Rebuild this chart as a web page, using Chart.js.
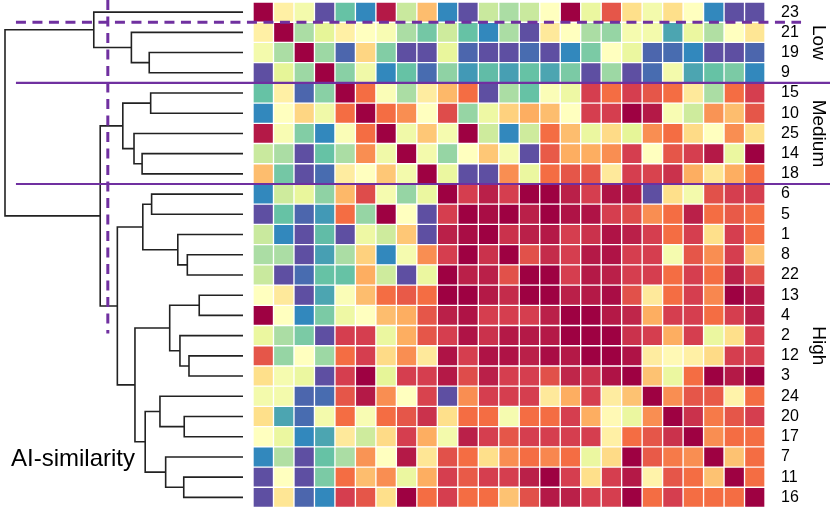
<!DOCTYPE html>
<html>
<head>
<meta charset="utf-8">
<title>AI-similarity</title>
<script src="https://cdn.jsdelivr.net/npm/chart.js@4.4.1/dist/chart.umd.min.js"></script>
<style>
  html, body { margin: 0; padding: 0; background: #fff; }
  #wrap { width: 830px; height: 510px; }
</style>
</head>
<body>
<div id="wrap"><canvas id="simChart" width="830" height="510"></canvas></div>
<script>
// row / column order (same order on both axes)
const rowLabels = ['23','21','19','9','15','10','25','14','18','6','5','1','8','22','13','4','2','12','3','24','20','17','7','11','16'];

// similarity per row, 0 (low) .. 10 (high)
const s23 = [10, 5.5, 4.5, 0, 2, 1, 9.6, 3.5, 6.7, 1, 0, 3.5, 3, 3.5, 5, 10, 4.2, 8.5, 6, 4.5, 6, 5, 1, 0, 0];
const s21 = [5.5, 10, 3, 4, 5.5, 5, 4.7, 3, 2.2, 3.6, 2, 1, 3, 0, 5.7, 5, 3, 2.7, 4.6, 4.5, 1.5, 4.2, 3.1, 5, 5.8];
const s19 = [4.5, 3, 10, 2.8, 0.4, 6.2, 2.4, 0, 0, 4.1, 0.4, 0, 0, 0.5, 0, 1, 2.3, 5, 4.2, 0.4, 0.5, 1, 0, 0, 0.4];
const s9  = [0, 4, 2.8, 10, 2.5, 4.4, 1, 2, 0.5, 2.6, 1.3, 1.9, 1.4, 2, 1.5, 2.3, 0, 2.8, 0, 0.5, 4.5, 1.5, 2, 2.3, 1];
const s15 = [2, 5.5, 0.4, 2.5, 10, 8, 4.8, 3, 5.6, 6.8, 8, 0, 3, 2, 4.8, 4.3, 9, 8, 9, 8.5, 8, 5.7, 3, 8, 9];
const s10 = [1, 5, 6.2, 4.4, 8, 10, 8, 7.5, 5, 8.7, 2.7, 4.3, 6.3, 7, 6.7, 5, 9, 9, 10, 9.6, 4.7, 3.6, 7.4, 6.7, 8.5];
const s25 = [9.6, 4.7, 2.4, 1, 4.8, 8, 10, 4.4, 6.5, 4.6, 10, 3.6, 1, 3.6, 8, 6.7, 4.2, 6.1, 4, 7.5, 8, 6.1, 5, 7.5, 6];
const s14 = [3.5, 3, 0, 2, 3, 7.5, 4.4, 10, 4.5, 2.7, 5, 6.5, 4.6, 0, 8.4, 7, 7, 7.5, 9, 5, 8.5, 9, 9.6, 4.2, 10];
const s18 = [6.7, 2.2, 0, 0.5, 5.6, 5, 6.5, 4.5, 10, 4.2, 0, 0, 7.5, 4.2, 8, 8.5, 8.5, 5.7, 9, 8.9, 9.2, 7, 5.8, 7, 8];
const s6  = [1, 3.6, 4.1, 2.6, 6.8, 8.7, 4.6, 2.7, 4.2, 10, 9, 9.5, 9, 10, 10, 9.5, 9, 9.7, 9.6, 0, 6, 4.5, 8.6, 9, 9];
const s5  = [0, 2, 0.4, 1.3, 8, 2.7, 10, 5, 0, 9, 10, 9.8, 10, 9.5, 10, 9.7, 9.7, 9, 8.7, 7.5, 8, 9.5, 8, 8.4, 8];
const s1  = [3.5, 1, 0, 1.9, 0, 4.3, 3.6, 6.5, 0, 9.5, 9.8, 10, 9.2, 9.5, 9.6, 9, 9.2, 9.7, 9.5, 9, 8, 9, 6, 9, 8];
const s8  = [3, 3, 0, 1.4, 3, 6.3, 1, 4.6, 7.5, 9, 10, 9.2, 10, 8.6, 9.3, 9, 9.6, 9.7, 9, 9, 4.6, 8.5, 7.5, 9, 6.6];
const s22 = [3.5, 0, 0.5, 2, 2, 7, 3.6, 0, 4.2, 10, 9.5, 9.5, 8.6, 10, 10, 9, 9.6, 9.5, 9, 9, 8, 9, 8, 9.5, 8.6];
const s13 = [5, 5.7, 0, 1.5, 4.8, 6.7, 8, 8.4, 8, 10, 10, 9.6, 9.3, 10, 10, 9.5, 9.6, 9.8, 8.6, 5.7, 8, 9, 7.6, 10, 9.6];
const s4  = [10, 5, 1, 2.3, 4.3, 5, 6.7, 7, 8.5, 9.5, 9.7, 9, 9, 9, 9.5, 10, 10, 9.6, 9.4, 7, 9, 9, 8, 9, 9.5];
const s2  = [4.2, 3, 2.3, 0, 9, 9, 4.2, 7, 8.5, 9, 9.7, 9.2, 9.6, 9.6, 9.6, 10, 10, 10, 9.2, 9, 7, 9, 4.2, 6, 9];
const s12 = [8.5, 2.7, 5, 2.8, 8, 9, 6.1, 7.5, 5.7, 9.7, 9, 9.7, 9.7, 9.5, 9.8, 9.6, 10, 10, 9.7, 5.6, 5.2, 5.5, 6.1, 9, 9];
const s3  = [6, 4.6, 4.2, 0, 9, 10, 4, 9, 9, 9.6, 8.7, 9.5, 9, 9, 8.6, 9.4, 9.2, 9.7, 10, 6.6, 4.2, 8, 10, 9.6, 10];
const s24 = [4.5, 4.5, 0.4, 0.5, 8.5, 9.6, 7.5, 5, 8.9, 0, 7.5, 9, 9, 9, 5.7, 7, 9, 5.6, 6.6, 10, 7.5, 8.5, 8.4, 5.4, 8];
const s20 = [6, 1.5, 0.5, 4.5, 8, 4.7, 8, 8.5, 9.2, 6, 8, 8, 4.6, 8, 8, 9, 7, 5.2, 4.2, 7.5, 10, 9.2, 7.8, 8.5, 9];
const s17 = [5, 4.2, 1, 1.5, 5.7, 3.6, 6.1, 9, 7, 4.5, 9.5, 9, 8.5, 9, 9, 9, 9, 5.5, 8, 8.5, 9.2, 10, 7.5, 8, 8];
const s7  = [1, 3.1, 0, 2, 3, 7.4, 5, 9.6, 5.8, 8.6, 8, 6, 7.5, 8, 7.6, 8, 4.2, 6.1, 10, 8.4, 7.8, 7.5, 10, 6.6, 8];
const s11 = [0, 5, 0, 2.3, 8, 6.7, 7.5, 4.2, 7, 9, 8.4, 9, 9, 9.5, 10, 9, 6, 9, 9.6, 5.4, 8.5, 8, 6.6, 10, 8];
const s16 = [0, 5.8, 0.4, 1, 9, 8.5, 6, 10, 8, 9, 8, 8, 6.6, 8.6, 9.6, 9.5, 9, 9, 10, 8, 9, 8, 8, 8, 10];

// dendrogram merges: children are row indexes (<25) or earlier merges (25 + k)
const mergeLeft   = [14, 17, 12, 20, 23, 16, 11, 25, 22, 19, 9, 4, 2, 34, 35, 7, 32, 6, 1, 36, 39, 44, 0, 47];
const mergeRight  = [15, 18, 13, 21, 24, 26, 27, 30, 29, 28, 10, 5, 3, 33, 31, 8, 38, 40, 37, 42, 41, 45, 43, 46];
const mergeHeight = [0.184, 0.227, 0.234, 0.247, 0.249, 0.265, 0.274, 0.308, 0.325, 0.349, 0.384, 0.388, 0.394,
                     0.411, 0.421, 0.424, 0.454, 0.458, 0.469, 0.505, 0.528, 0.600, 0.627, 1.0];

// group labels and cut lines
const groupNames = ['Low', 'Medium', 'High'];
const groupCentres = [1.5, 6, 16.5];
const groupBreaks = [3.5, 8.5];
const dashedBreak = 0.5;
const cutHeight = 0.568;

const spectral = ['#5e4fa2','#3288bd','#66c2a5','#abdda4','#e6f598','#ffffbf','#fee08b','#fdae61','#f46d43','#d53e4f','#9e0142'];

const FONT = '"Liberation Sans", Arial, sans-serif';
const PURPLE = '#7030a0';

const matrix = [s23, s21, s19, s9, s15, s10, s25, s14, s18, s6, s5, s1, s8, s22, s13, s4, s2, s12, s3, s24, s20, s17, s7, s11, s16];

function hexRgb(h) {
  return [1, 3, 5].map(i => parseInt(h.slice(i, i + 2), 16));
}
function cellColor(v) {
  const t = Math.max(0, Math.min(10, v));
  const i = Math.min(9, Math.floor(t));
  const f = t - i;
  const a = hexRgb(spectral[i]), b = hexRgb(spectral[i + 1]);
  const c = a.map((x, k) => Math.round(x + (b[k] - x) * f));
  return `rgb(${c[0]},${c[1]},${c[2]})`;
}

// one floating-bar dataset per column
const heatSets = rowLabels.map((_, c) => ({
  type: 'bar',
  xAxisID: 'x',
  yAxisID: 'y',
  data: rowLabels.map((_, r) => ({ x: [c, c + 1], y: r })),
  backgroundColor: rowLabels.map((_, r) => cellColor(matrix[r][c])),
  borderColor: '#ffffff',
  borderWidth: 1,
  borderSkipped: false,
  grouped: false,
  categoryPercentage: 1,
  barPercentage: 1
}));

// dendrogram links
const nodeY = rowLabels.map((_, i) => i);
const nodeH = rowLabels.map(() => 0);
const treeSets = [];
mergeLeft.forEach((a, k) => {
  const b = mergeRight[k];
  const h = mergeHeight[k];
  treeSets.push({
    type: 'line',
    xAxisID: 'xd',
    yAxisID: 'y',
    data: [
      { x: nodeH[a], y: nodeY[a] },
      { x: h, y: nodeY[a] },
      { x: h, y: nodeY[b] },
      { x: nodeH[b], y: nodeY[b] }
    ],
    borderColor: '#222222',
    borderWidth: 1.6,
    pointRadius: 0,
    fill: false,
    tension: 0,
    clip: false
  });
  nodeY.push((nodeY[a] + nodeY[b]) / 2);
  nodeH.push(h);
});

const overlay = {
  id: 'overlay',
  afterDatasetsDraw(chart) {
    const { ctx } = chart;
    const { x, xd, y } = chart.scales;
    const x0 = xd.getPixelForValue(0.954);
    ctx.save();
    ctx.strokeStyle = PURPLE;
    ctx.lineWidth = 2.2;
    groupBreaks.forEach(b => {
      const py = y.getPixelForValue(b);
      ctx.beginPath();
      ctx.moveTo(x0, py);
      ctx.lineTo(chart.width, py);
      ctx.stroke();
    });
    ctx.setLineDash([10, 6.5]);
    ctx.lineWidth = 3;
    const pd = y.getPixelForValue(dashedBreak);
    ctx.beginPath();
    ctx.moveTo(x0, pd);
    ctx.lineTo(x.getPixelForValue(26.76), pd);
    ctx.stroke();
    const pc = xd.getPixelForValue(cutHeight);
    ctx.beginPath();
    ctx.moveTo(pc, 0);
    ctx.lineTo(pc, y.getPixelForValue(15.9));
    ctx.stroke();
    ctx.restore();
  },
  afterDraw(chart) {
    const { ctx } = chart;
    const y = chart.scales.y;
    ctx.save();
    ctx.fillStyle = '#000';
    ctx.font = '19px ' + FONT;
    ctx.textAlign = 'center';
    ctx.textBaseline = 'middle';
    groupNames.forEach((name, i) => {
      ctx.save();
      ctx.translate(818, y.getPixelForValue(groupCentres[i]));
      ctx.rotate(Math.PI / 2);
      ctx.fillText(name, 0, 0);
      ctx.restore();
    });
    ctx.font = '24px ' + FONT;
    ctx.textAlign = 'left';
    ctx.textBaseline = 'alphabetic';
    ctx.fillText('AI-similarity', 11, 466);
    ctx.restore();
  }
};

new Chart(document.getElementById('simChart'), {
  type: 'bar',
  data: { datasets: [...heatSets, ...treeSets] },
  options: {
    indexAxis: 'y',
    responsive: false,
    animation: false,
    layout: { padding: { top: 2, bottom: 2.5, left: 0, right: 0 } },
    plugins: { legend: { display: false }, tooltip: { enabled: false } },
    scales: {
      x: { type: 'linear', display: false, offset: false, min: -12.354, max: 25 },
      xd: { type: 'linear', axis: 'x', display: false, offset: false, reverse: true, min: -2.193, max: 1.021 },
      y: {
        type: 'linear',
        position: 'right',
        reverse: true,
        offset: false,
        min: -0.5,
        max: 24.5,
        afterBuildTicks: ax => { ax.ticks = rowLabels.map((_, i) => ({ value: i })); },
        afterFit: ax => {
          ax.width = 65;
          ax.paddingTop = 0;
          ax.paddingBottom = 0;
        },
        grid: { display: false, drawTicks: false, offset: false },
        border: { display: false },
        ticks: {
          autoSkip: false,
          padding: 16,
          color: '#000',
          font: { family: FONT, size: 16 },
          callback: v => rowLabels[v]
        }
      }
    }
  },
  plugins: [overlay]
});
</script>
</body>
</html>
